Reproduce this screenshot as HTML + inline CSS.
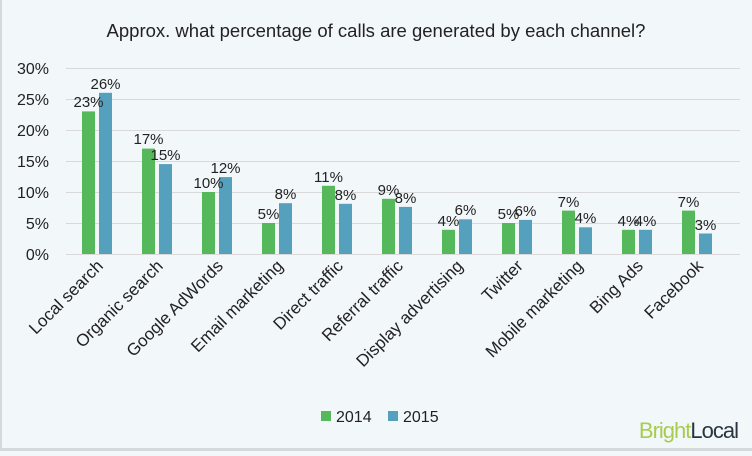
<!DOCTYPE html>
<html><head><meta charset="utf-8"><style>
html,body{margin:0;padding:0;}
body{width:752px;height:451px;overflow:hidden;background:#f2f7fa;font-family:"Liberation Sans",sans-serif;}
</style></head><body>
<svg width="752" height="451" xmlns="http://www.w3.org/2000/svg" font-family="Liberation Sans, sans-serif">
<rect x="0" y="0" width="752" height="451" fill="#f2f7fa"/>
<rect x="0" y="0" width="2" height="451" fill="#d6d9db"/>
<rect x="0" y="448" width="752" height="3" fill="#d6d9db"/>
<text x="376" y="37" font-size="18.5" text-anchor="middle" fill="#222">Approx. what percentage of calls are generated by each channel?</text>
<g stroke="#d9d9d9" stroke-width="1">
<line x1="66" x2="740" y1="68.5" y2="68.5"/><line x1="66" x2="740" y1="99.5" y2="99.5"/>
<line x1="66" x2="740" y1="130.5" y2="130.5"/><line x1="66" x2="740" y1="161.5" y2="161.5"/>
<line x1="66" x2="740" y1="192.5" y2="192.5"/><line x1="66" x2="740" y1="223.5" y2="223.5"/>
<line x1="66" x2="740" y1="254.5" y2="254.5"/>
</g>
<g font-size="16" fill="#222" text-anchor="end">
<text x="49" y="74">30%</text><text x="49" y="105">25%</text><text x="49" y="136">20%</text>
<text x="49" y="167">15%</text><text x="49" y="198">10%</text><text x="49" y="229">5%</text><text x="49" y="260">0%</text>
</g>
<g fill="#55b95b">
<rect x="82" y="111.4" width="13" height="142.6"/>
<rect x="142" y="148.6" width="13" height="105.4"/>
<rect x="202" y="192" width="13" height="62"/>
<rect x="262" y="223" width="13" height="31"/>
<rect x="322" y="185.8" width="13" height="68.2"/>
<rect x="382" y="198.8" width="13" height="55.2"/>
<rect x="442" y="229.8" width="13" height="24.2"/>
<rect x="502" y="223" width="13" height="31"/>
<rect x="562" y="210.6" width="13" height="43.4"/>
<rect x="622" y="229.8" width="13" height="24.2"/>
<rect x="682" y="210.6" width="13" height="43.4"/>
</g>
<g fill="#55a0bd">
<rect x="99" y="92.8" width="13" height="161.2"/>
<rect x="159" y="164.1" width="13" height="89.9"/>
<rect x="219" y="177.1" width="13" height="76.9"/>
<rect x="279" y="203.2" width="13" height="50.8"/>
<rect x="339" y="203.8" width="13" height="50.2"/>
<rect x="399" y="206.9" width="13" height="47.1"/>
<rect x="459" y="219.3" width="13" height="34.7"/>
<rect x="519" y="219.9" width="13" height="34.1"/>
<rect x="579" y="227.3" width="13" height="26.7"/>
<rect x="639" y="229.8" width="13" height="24.2"/>
<rect x="699" y="233.5" width="13" height="20.5"/>
</g>
<g font-size="15" fill="#222" text-anchor="middle">
<text x="88.5" y="107">23%</text><text x="105.5" y="89">26%</text>
<text x="148.5" y="144">17%</text><text x="165.5" y="160">15%</text>
<text x="208.5" y="188">10%</text><text x="225.5" y="173">12%</text>
<text x="268.5" y="219">5%</text><text x="285.5" y="199">8%</text>
<text x="328.5" y="182">11%</text><text x="345.5" y="200">8%</text>
<text x="388.5" y="195">9%</text><text x="405.5" y="203">8%</text>
<text x="448.5" y="226">4%</text><text x="465.5" y="215">6%</text>
<text x="508.5" y="219">5%</text><text x="525.5" y="216">6%</text>
<text x="568.5" y="207">7%</text><text x="585.5" y="223">4%</text>
<text x="628.5" y="226">4%</text><text x="645.5" y="226">4%</text>
<text x="688.5" y="207">7%</text><text x="705.5" y="230">3%</text>
</g>
<g font-size="17" fill="#222" text-anchor="end">
<text transform="translate(104,267) rotate(-45)">Local search</text>
<text transform="translate(164,267) rotate(-45)">Organic search</text>
<text transform="translate(224,267) rotate(-45)">Google AdWords</text>
<text transform="translate(284,267) rotate(-45)">Email marketing</text>
<text transform="translate(344,267) rotate(-45)">Direct traffic</text>
<text transform="translate(404,267) rotate(-45)">Referral traffic</text>
<text transform="translate(464,267) rotate(-45)">Display advertising</text>
<text transform="translate(524,267) rotate(-45)">Twitter</text>
<text transform="translate(584,267) rotate(-45)">Mobile marketing</text>
<text transform="translate(644,267) rotate(-45)">Bing Ads</text>
<text transform="translate(704,267) rotate(-45)">Facebook</text>
</g>
<g font-size="16" fill="#222">
<rect x="321" y="411" width="10" height="10" fill="#55b95b"/><text x="336" y="422">2014</text>
<rect x="388" y="411" width="10" height="10" fill="#55a0bd"/><text x="403" y="422">2015</text>
</g>
<text x="738" y="438" font-size="22" text-anchor="end" letter-spacing="-1"><tspan fill="#a8cc50">Bright</tspan><tspan fill="#2b3540">Local</tspan></text>
</svg>
</body></html>
